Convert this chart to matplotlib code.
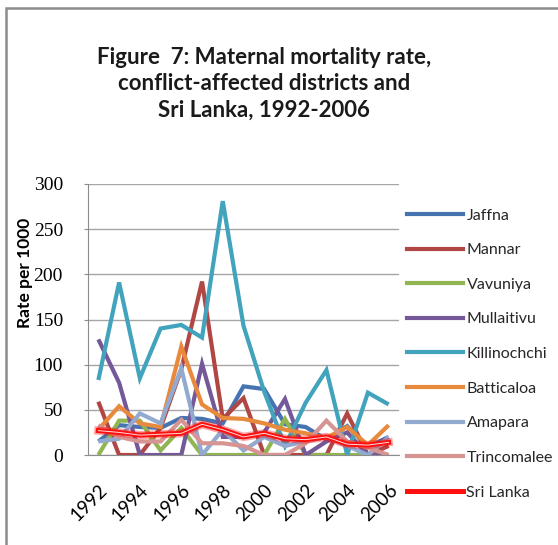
import matplotlib
matplotlib.use("Agg")
import matplotlib.pyplot as plt
from matplotlib.patches import Rectangle
from matplotlib.lines import Line2D

years = list(range(1992, 2007))
series_names = ["Jaffna", "Mannar", "Vavuniya", "Mullaitivu", "Killinochchi",
                "Batticaloa", "Amapara", "Trincomalee", "Sri Lanka"]
jaffna = [15, 33, 31, 30, 41, 40, 35, 76, 73, 34, 31, 17, 32, 9, 20]
mannar = [59, 0, 0, 30, 95, 192, 40, 63, 0, 0, 0, 0, 46, 0, 10]
vavuniya = [0, 38, 38, 5, 30, 0, 0, 0, 0, 40, 0, 0, 0, 0, 0]
mullaitivu = [128, 80, 0, 0, 0, 101, 20, 20, 25, 62, 0, 15, 25, 0, 0]
killinochchi = [83, 191, 85, 140, 144, 130, 281, 143, 70, 10, 58, 94, 0, 69, 56]
batticaloa = [28, 54, 35, 31, 120, 56, 41, 40, 35, 28, 24, 19, 31, 11, 33]
amapara = [15, 18, 46, 35, 96, 0, 28, 5, 20, 10, 15, 20, 10, 0, 20]
trincomalee = [33, 20, 15, 15, 39, 13, 13, 10, 0, 0, 13, 38, 15, 8, 0]
srilanka = [27, 25, 22, 23, 24, 34, 28, 20, 24, 18, 17, 20, 12, 11, 14]

data = [jaffna, mannar, vavuniya, mullaitivu, killinochchi,
        batticaloa, amapara, trincomalee]
colors = ["#4674B0", "#B04744", "#91B550", "#74589A", "#42A3BD",
          "#E8893C", "#92A9D0", "#D69593"]

plt.rcParams['font.family'] = ['Lato', 'DejaVu Sans']

fig = plt.figure(figsize=(5.58, 5.45), dpi=100)
fig.patch.set_facecolor("white")

# outer frame (left and top visible)
fig.patches.append(Rectangle((6/558, -0.1), 1.2, (545-8)/545 + 0.1,
                             transform=fig.transFigure, fill=False,
                             edgecolor="#8C8C8C", linewidth=1.8, zorder=0))

ax = fig.add_axes([88/558, (545-455)/545, 311/558, 271/545])
x = list(range(len(years)))

for vals, c in zip(data, colors):
    ax.plot(x, vals, color=c, linewidth=3.0, solid_joinstyle="miter",
            solid_capstyle="butt", zorder=3)

# Sri Lanka: red double line with glow
ax.plot(x, srilanka, color="#FF0000", alpha=0.35, linewidth=6.0, zorder=4)
ax.plot(x, srilanka, color="#FF1010", linewidth=3.6, zorder=5)
ax.plot(x, srilanka, color="white", linewidth=0.7, alpha=0.85, zorder=6)

ax.set_xlim(-0.5, len(years) - 0.5)
ax.set_ylim(0, 300)
ax.set_yticks(range(0, 301, 50))
ax.set_yticklabels([str(v) for v in range(0, 301, 50)],
                   fontsize=14, family="Liberation Serif")
ax.set_xticks(x[::2])
ax.set_xticklabels([str(y) for y in years[::2]], rotation=45,
                   ha="right", va="top", rotation_mode="anchor", fontsize=13.5)
ax.tick_params(axis="x", length=0, pad=19)
ax.tick_params(axis="y", length=3, color="#8C8C8C", pad=15)
ax.grid(axis="y", color="#A6A6A6", linewidth=1.0, zorder=0)
ax.set_axisbelow(True)
for s in ["top", "right"]:
    ax.spines[s].set_visible(False)
ax.spines["left"].set_color("#8C8C8C")
ax.spines["bottom"].set_color("#8C8C8C")

ax.set_ylabel("Rate per 1000", fontsize=12.5, fontweight="bold")
ax.yaxis.set_label_coords(25/558, 0.5, transform=fig.transFigure)
ax.yaxis.label.set_va("center")

# title
fig.text(264/558, 1 - 84/545,
         "Figure  7: Maternal mortality rate,\nconflict-affected districts and\nSri Lanka, 1992-2006",
         ha="center", va="center", fontsize=16, fontweight="bold",
         linespacing=1.32, color="#1A1A1A")

# legend
handles = [Line2D([0], [0], color=c, linewidth=3.0) for c in colors]
handles.append(Line2D([0], [0], color="#FF1010", linewidth=3.6))
leg = fig.legend(handles, series_names, loc="upper left",
                 bbox_to_anchor=(401/558, 1 - 202/545), frameon=False,
                 fontsize=11.5, handlelength=3.5, handletextpad=0.2,
                 labelspacing=1.28, borderaxespad=0)
for t in leg.get_texts():
    t.set_color("#262626")

fig.savefig("out.png", dpi=100, facecolor="white")
